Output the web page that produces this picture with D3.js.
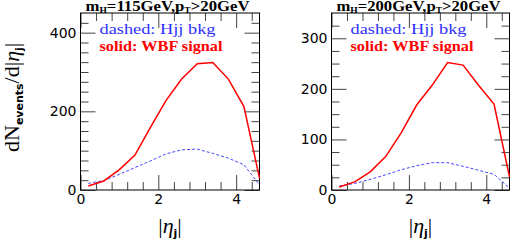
<!DOCTYPE html>
<html>
<head>
<meta charset="utf-8">
<script src="https://cdn.jsdelivr.net/npm/d3@7"></script>
<style>
  body { margin: 0; background: #fff; }
  svg { display: block; }
</style>
</head>
<body>
<script>
// bin centres of |eta_j| and the two curves for each Higgs mass
var eta = [0.2, 0.6, 1.0, 1.4, 1.8, 2.2, 2.6, 3.0, 3.4, 3.8, 4.2, 4.6];
var wbf115 = [10, 23, 52, 89, 160, 228, 282, 321, 324, 282, 212, 30];
var hjj115 = [17, 24, 40, 57, 74, 92, 102, 104, 93, 81, 64, 13];
var wbf200 = [6, 16, 36, 66, 113, 168, 207, 252, 247, 207, 170, 26];
var hjj200 = [8, 13, 21, 30, 40, 48, 54, 54, 47, 39, 31, 4];

var xTicks = [0, 2, 4];
var yTicks115 = [0, 200, 400];
var yTicks200 = [0, 100, 200, 300];

var w = 510;
var h = 240;

var svg = d3.select("body")
    .append("svg")
    .attr("width", w)
    .attr("height", h);

// y axis title, shared by both panels
var ylab = svg.append("text")
    .attr("transform", "translate(19,152) rotate(-90)")
    .attr("font-family", "Liberation Serif")
    .attr("font-size", "22px")
    .attr("fill", "#000");
ylab.append("tspan").text("dN");
ylab.append("tspan").text("events")
    .attr("font-family", "DejaVu Sans")
    .attr("font-weight", "bold")
    .attr("font-size", "11px")
    .attr("dy", 4);
ylab.append("tspan").text("/d|").attr("dy", -4);
ylab.append("tspan").text("η").attr("font-style", "italic");
ylab.append("tspan").text("j")
    .attr("font-family", "DejaVu Sans")
    .attr("font-weight", "bold")
    .attr("font-size", "11px")
    .attr("dy", 4);
ylab.append("tspan").text("|").attr("dy", -4);

var drawPanel = function(left, right, yMax, yTicks, signal, bkg, mass) {
    var top = 13, bottom = 190;

    var x = d3.scaleLinear().domain([0, 4.6]).range([left, right]);
    var y = d3.scaleLinear().domain([0, yMax]).range([bottom, top]);

    var xMinor = d3.range(0.4, 4.6, 0.4).filter(function(v) {
        return Math.abs(v / 2 - Math.round(v / 2)) > 0.01;
    });
    var yMinor = d3.range(25, yMax, 25).filter(function(v) {
        return yTicks.indexOf(v) < 0;
    });

    var g = svg.append("g");

    // major and minor ticks on all four sides, pointing inwards
    var axes = [
        [d3.axisBottom(x).tickValues(xTicks), d3.axisBottom(x).tickValues(xMinor), "translate(0," + bottom + ")", true],
        [d3.axisTop(x).tickValues(xTicks), d3.axisTop(x).tickValues(xMinor), "translate(0," + top + ")", false],
        [d3.axisLeft(y).tickValues(yTicks), d3.axisLeft(y).tickValues(yMinor), "translate(" + left + ",0)", true],
        [d3.axisRight(y).tickValues(yTicks), d3.axisRight(y).tickValues(yMinor), "translate(" + right + ",0)", false]
    ];
    axes.forEach(function(a) {
        var major = a[0].tickSize(-15).tickPadding(4).tickFormat(d3.format("d"));
        if (!a[3]) major.tickFormat("");
        var ga = g.append("g").attr("transform", a[2]).call(major);
        g.append("g").attr("transform", a[2])
            .call(a[1].tickSize(-8).tickFormat(""));
        ga.selectAll("text")
            .attr("font-family", "DejaVu Sans")
            .attr("font-size", "14px")
            .attr("fill", "#000");
    });
    g.selectAll(".domain").remove();
    g.selectAll(".tick line").attr("stroke", "#444");

    g.append("rect")
        .attr("x", left)
        .attr("y", top)
        .attr("width", right - left)
        .attr("height", bottom - top)
        .attr("fill", "none")
        .attr("stroke", "#000")
        .attr("stroke-width", 1);

    var line = d3.line()
        .x(function(d, i) { return x(eta[i]); })
        .y(function(d) { return y(d); });

    g.append("path")
        .datum(bkg)
        .attr("d", line)
        .attr("fill", "none")
        .attr("stroke", "#3030ff")
        .attr("stroke-width", 0.9)
        .attr("stroke-dasharray", "3,2");

    g.append("path")
        .datum(signal)
        .attr("d", line)
        .attr("fill", "none")
        .attr("stroke", "#ff0000")
        .attr("stroke-width", 1.5);

    // panel title
    var t = g.append("text")
        .attr("x", left + 5)
        .attr("y", 11)
        .attr("textLength", 164)
        .attr("lengthAdjust", "spacingAndGlyphs")
        .attr("font-family", "Liberation Serif")
        .attr("font-weight", "bold")
        .attr("font-size", "14px")
        .attr("fill", "#000");
    t.append("tspan").text("m");
    t.append("tspan").text("H").attr("font-size", "8px").attr("dy", 2);
    t.append("tspan").text("=" + mass + "GeV,p").attr("dy", -2);
    t.append("tspan").text("T").attr("font-size", "8px").attr("dy", 2);
    t.append("tspan").text(">20GeV").attr("dy", -2);

    g.append("text")
        .text("dashed:  Hjj  bkg")
        .attr("x", left + 19)
        .attr("y", 34)
        .attr("textLength", 116)
        .attr("lengthAdjust", "spacingAndGlyphs")
        .attr("font-family", "Liberation Serif")
        .attr("font-size", "14px")
        .attr("fill", "#3030ff");

    g.append("text")
        .text("solid:  WBF  signal")
        .attr("x", left + 19)
        .attr("y", 51)
        .attr("textLength", 123)
        .attr("lengthAdjust", "spacingAndGlyphs")
        .attr("font-family", "Liberation Serif")
        .attr("font-weight", "bold")
        .attr("font-size", "14px")
        .attr("fill", "#ff0000");

    // x axis title
    var xl = g.append("text")
        .attr("x", (left + right) / 2)
        .attr("y", 233)
        .attr("text-anchor", "middle")
        .attr("font-family", "Liberation Serif")
        .attr("font-size", "22px")
        .attr("fill", "#000");
    xl.append("tspan").text("|");
    xl.append("tspan").text("η").attr("font-style", "italic");
    xl.append("tspan").text("j")
        .attr("font-family", "DejaVu Sans")
        .attr("font-weight", "bold")
        .attr("font-size", "11px")
        .attr("dy", 4);
    xl.append("tspan").text("|").attr("dy", -4);
};

drawPanel(80.5, 259.5, 450, yTicks115, wbf115, hjj115, 115);
drawPanel(331.5, 509.5, 350, yTicks200, wbf200, hjj200, 200);
</script>
</body>
</html>
